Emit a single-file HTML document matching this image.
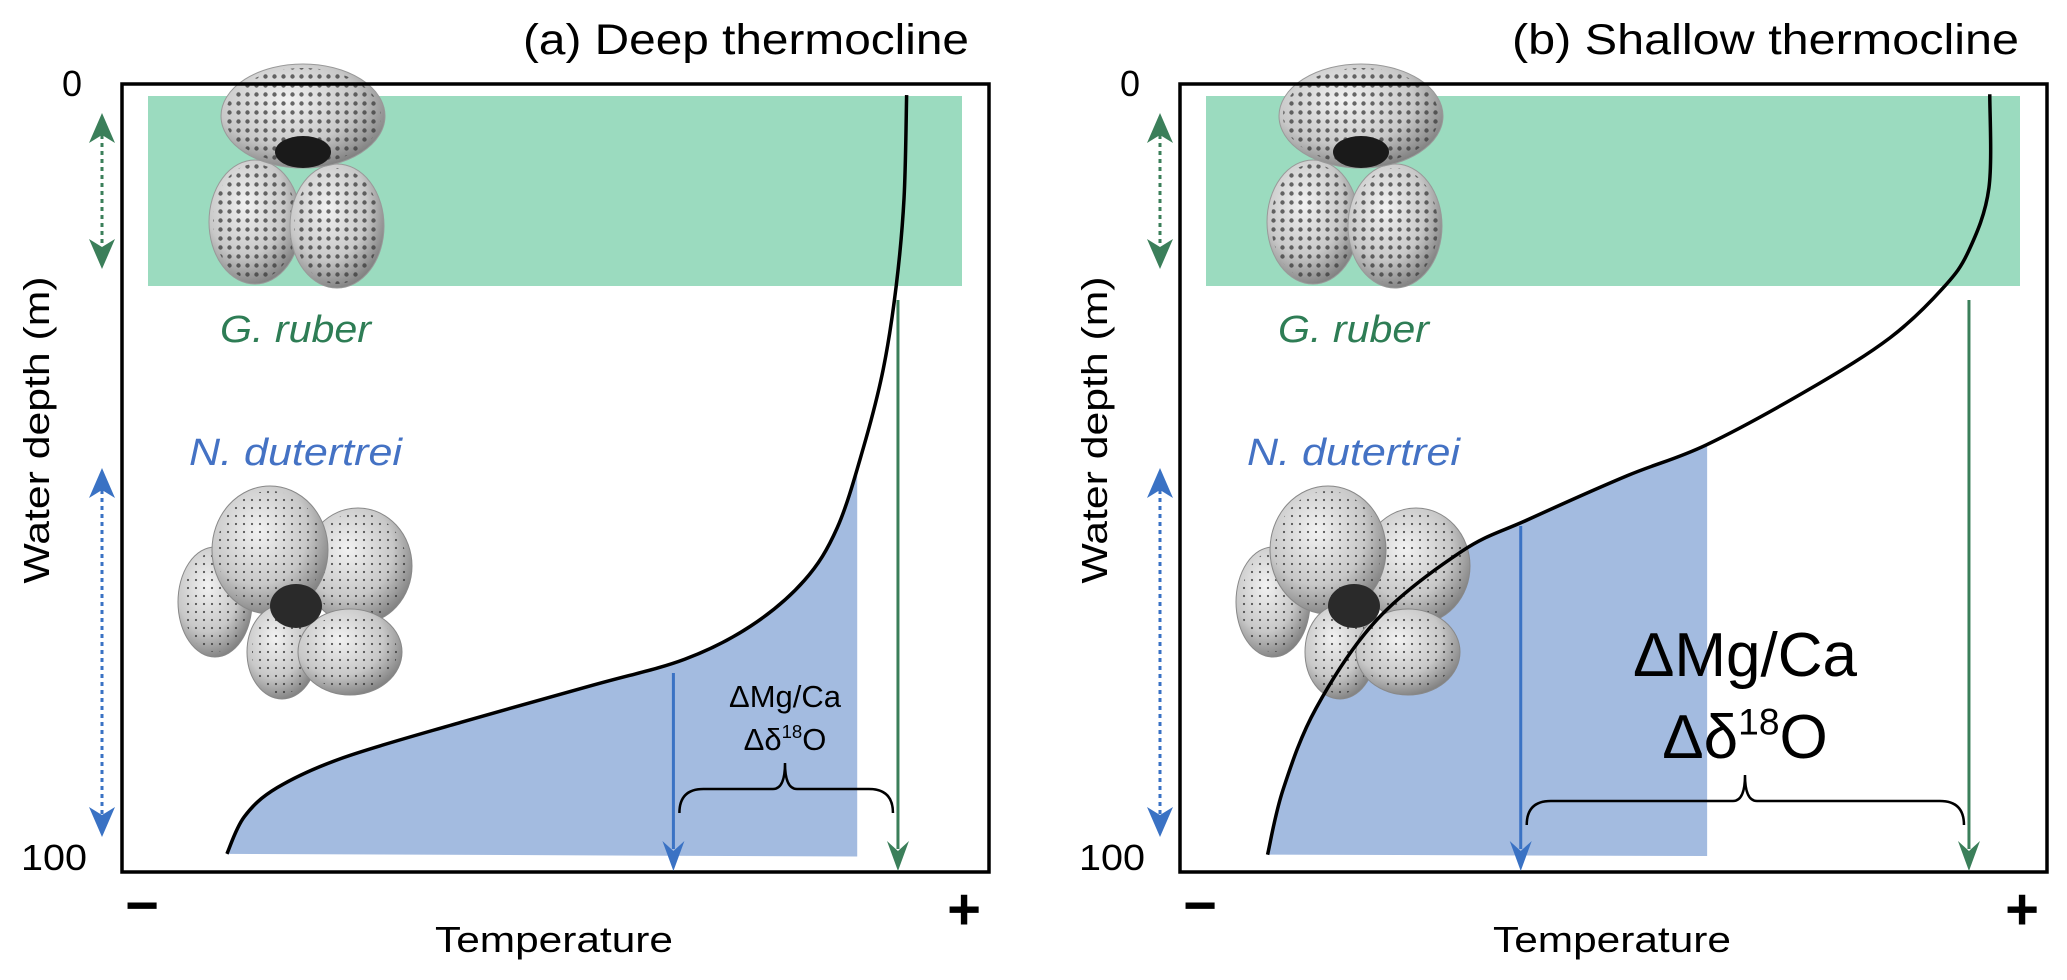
<!DOCTYPE html>
<html><head><meta charset="utf-8">
<style>
html,body{margin:0;padding:0;background:#fff;}
svg{display:block;font-family:"Liberation Sans",sans-serif;}
</style></head>
<body>
<svg id="fig" width="2067" height="980" viewBox="0 0 2067 980" xmlns="http://www.w3.org/2000/svg">
<defs>
  <pattern id="pores" width="9" height="9" patternUnits="userSpaceOnUse">
    <rect width="9" height="9" fill="none"/>
    <circle cx="4.5" cy="4.5" r="2.2" fill="#3a3a3a"/>
  </pattern>
  <pattern id="pores2" width="8" height="8" patternUnits="userSpaceOnUse">
    <circle cx="4" cy="4" r="1.1" fill="#333"/>
  </pattern>
  <radialGradient id="shell" cx="40%" cy="35%" r="70%">
    <stop offset="0" stop-color="#f2f2f2"/>
    <stop offset="0.6" stop-color="#c8c8c8"/>
    <stop offset="1" stop-color="#7a7a7a"/>
  </radialGradient>
</defs>
<g id="root"></g>
</svg>
<script>
// ---- data ----
const depthTicks = ["0", "100"];
const tempLabels = ["\u2212", "+"];
// Panel (a) deep thermocline: temperature (0-100 relative) vs depth (m)
const tempA  = [90.5, 90.2, 89.3, 87.8, 85.5, 82.5, 78.7, 72.5, 64.9, 54.3, 39.1, 25.5, 17.9, 14.1, 12.1];
const depthA = [1.4, 14.5, 25.6, 36.2, 46.2, 56.3, 63.0, 68.8, 73.0, 76.3, 81.0, 85.5, 89.3, 93.0, 97.7];
// Panel (b) shallow thermocline
const tempB  = [93.4, 93.3, 91.0, 88.0, 81.9, 72.8, 60.7, 51.6, 40.1, 32.5, 22.7, 15.7, 11.9, 10.1];
const depthB = [1.3, 13.2, 21.1, 25.9, 32.2, 38.6, 45.8, 49.7, 55.3, 59.3, 68.0, 79.2, 89.5, 97.8];
// species temperature markers & N. dutertrei fill limit
const ndTemp = [63.6, 39.3];
const grTemp = [89.5, 91.0];
const fillLimit = [84.8, 60.8];
const titles = ["(a) Deep thermocline", "(b) Shallow thermocline"];

const NS = "http://www.w3.org/2000/svg";
const root = document.getElementById("root");
function mk(tag, attrs, parent) {
  const e = document.createElementNS(NS, tag);
  for (const k in attrs) e.setAttribute(k, attrs[k]);
  (parent || root).appendChild(e);
  return e;
}
const BW = 867, BH = 788, BY = 84;
function catmull(pts) {
  let d = "M" + pts[0][0] + "," + pts[0][1];
  for (let i = 0; i < pts.length - 1; i++) {
    const p0 = pts[Math.max(i - 1, 0)], p1 = pts[i], p2 = pts[i + 1], p3 = pts[Math.min(i + 2, pts.length - 1)];
    const c1 = [p1[0] + (p2[0] - p0[0]) / 6, p1[1] + (p2[1] - p0[1]) / 6];
    const c2 = [p2[0] - (p3[0] - p1[0]) / 6, p2[1] - (p3[1] - p1[1]) / 6];
    d += " C" + c1[0] + "," + c1[1] + " " + c2[0] + "," + c2[1] + " " + p2[0] + "," + p2[1];
  }
  return d;
}
function brace(x1, x2, y, tipX) {
  const r = 12, dn = 24, up = 26;
  return `M${x1},${y+dn} Q${x1},${y} ${x1+r*2},${y} L${tipX-r},${y} Q${tipX},${y} ${tipX},${y-up} Q${tipX},${y} ${tipX+r},${y} L${x2-r*2},${y} Q${x2},${y} ${x2},${y+dn}`;
}
function foramRuber(g, dx) {
  const parts = [[255,222,46,62],[337,226,47,62],[303,116,82,52]];
  parts.forEach((p,i) => {
    const c = mk("ellipse",{cx:p[0]+dx,cy:p[1],rx:p[2],ry:p[3],fill:"url(#shell)",stroke:"#999","stroke-width":1},g);
    
    
    mk("ellipse",{cx:p[0]+dx,cy:p[1],rx:p[2]-4,ry:p[3]-4,fill:"url(#pores)",opacity:0.75},g);
  });
  mk("ellipse",{cx:303+dx,cy:152,rx:28,ry:16,fill:"#1a1a1a"},g);
}
function foramDut(g, dx) {
  const parts = [[215,602,37,55],[358,566,54,58],[270,550,58,64],[282,652,35,47],[350,652,52,43]];
  parts.forEach(p => {
    const c = mk("ellipse",{cx:p[0]+dx,cy:p[1],rx:p[2],ry:p[3],fill:"url(#shell)",stroke:"#888","stroke-width":1},g);
    
    
    mk("ellipse",{cx:p[0]+dx,cy:p[1],rx:p[2]-5,ry:p[3]-5,fill:"url(#pores2)",opacity:0.8},g);
  });
  mk("ellipse",{cx:296+dx,cy:606,rx:26,ry:22,fill:"#2a2a2a"},g);
}
function arrowDown(g, x, y1, y2, color, w) {
  mk("line",{x1:x,y1:y1,x2:x,y2:y2-22,stroke:color,"stroke-width":w},g);
  mk("path",{d:`M${x-11},${y2-30} L${x},${y2} L${x+11},${y2-30} L${x},${y2-20} Z`,fill:color},g);
}
function dottedDouble(g, x, y1, y2, color) {
  mk("line",{x1:x,y1:y1+22,x2:x,y2:y2-22,stroke:color,"stroke-width":3,"stroke-dasharray":"4,4"},g);
  mk("path",{d:`M${x-13},${y1+30} L${x},${y1} L${x+13},${y1+30} L${x},${y1+22} Z`,fill:color},g);
  mk("path",{d:`M${x-13},${y2-30} L${x},${y2} L${x+13},${y2-30} L${x},${y2-22} Z`,fill:color},g);
}

function panel(idx, bx, temps, depths) {
  const xS = t => bx + t * BW / 100;
  const yS = d => BY + d * BH / 100;
  const dx = bx - 122;
  const g = mk("g", {});
  
  

  const band = mk("rect",{x:bx+26,y:96,width:814,height:190,fill:"#9bdbbf"},g);
  
  

  const pts = temps.map((t,i)=>[xS(t), yS(depths[i])]);
  const cid = "clip" + idx;
  const cp = mk("clipPath",{id:cid},g);
  mk("rect",{x:bx,y:BY,width:fillLimit[idx]*BW/100,height:yS(98.1)-BY},cp);
  const area = mk("path",{d:catmull(pts)+` L${bx+BW},${yS(98.1)} L${bx+BW},${BY} Z`,fill:"#a3bbe0","clip-path":`url(#${cid})`},g);
  
  

  const fr = mk("g",{},g);
  
  
  foramRuber(fr, dx);
  const fd = mk("g",{},g);
  
  
  foramDut(fd, dx);

  const curve = mk("path",{d:catmull(pts),fill:"none",stroke:"#000","stroke-width":3.5},g);
  
  

  const box = mk("rect",{x:bx,y:BY,width:BW,height:BH,fill:"none",stroke:"#000","stroke-width":3.5},g);
  
  

  const ga = mk("g",{},g);
  
  
  arrowDown(ga, xS(grTemp[idx]), 300, 871, "#3b7f5a", 3);
  const ba = mk("g",{},g);
  
  
  arrowDown(ba, xS(ndTemp[idx]), idx===0?673:526, 871, "#3a72c4", 3);

  const bL = xS(ndTemp[idx]) + 6, bR = xS(grTemp[idx]) - 5;
  const tip = idx===0 ? 785 : 1745;
  const by = idx===0 ? 789 : 801;
  const br = mk("path",{d:brace(bL,bR,by,tip),fill:"none",stroke:"#000","stroke-width":2.5},g);
  
  

  const fs = idx===0 ? 31 : 62;
  const l1 = mk("text",{x:tip,y:idx===0?707:676,"text-anchor":"middle","font-size":fs,fill:"#000"},g);
  l1.textContent = "\u0394Mg/Ca";
  
  
  const l2 = mk("text",{x:tip,y:idx===0?750:758,"text-anchor":"middle","font-size":fs,fill:"#000"},g);
  
  
  const t1 = mk("tspan",{},l2); t1.textContent = "\u0394\u03b4";
  const t2 = mk("tspan",{"font-size":fs*0.6,dy:-fs*0.38}, l2); t2.textContent = "18";
  const t3 = mk("tspan",{dy:fs*0.38}, l2); t3.textContent = "O";

  const dg = mk("g",{},g);
  
  
  dottedDouble(dg, bx-20, 113, 269, "#3b7f5a");
  const db = mk("g",{},g);
  
  
  dottedDouble(db, bx-20, 468, 837, "#3a72c4");

  const gr = mk("text",{x:220+dx,y:342,"font-size":38,"font-style":"italic",fill:"#2e7d55",textLength:151,lengthAdjust:"spacingAndGlyphs"},g);
  gr.textContent = "G. ruber";
  
  
  const nd = mk("text",{x:189+dx,y:465,"font-size":38,"font-style":"italic",fill:"#4472c4",textLength:213,lengthAdjust:"spacingAndGlyphs"},g);
  nd.textContent = "N. dutertrei";
  
  

  const t0 = mk("text",{x:bx-50,y:yS(0)+12,"text-anchor":"middle","font-size":36,fill:"#000"},g);
  t0.textContent = depthTicks[0];
  
  
  const t100 = mk("text",{x:bx-68,y:yS(100)-2,"text-anchor":"middle","font-size":36,fill:"#000",textLength:66,lengthAdjust:"spacingAndGlyphs"},g);
  t100.textContent = depthTicks[1];
  
  

  const yt = mk("text",{x:0,y:0,"text-anchor":"middle","font-size":36,fill:"#000",textLength:307,lengthAdjust:"spacingAndGlyphs",transform:`translate(${bx-73},430) rotate(-90)`},g);
  yt.textContent = "Water depth (m)";
  
  

  const mn = mk("text",{x:bx+20,y:925,"text-anchor":"middle","font-size":58,"font-weight":"bold",fill:"#000"},g);
  mn.textContent = tempLabels[0];
  
  
  const pl = mk("text",{x:bx+842,y:929,"text-anchor":"middle","font-size":58,"font-weight":"bold",fill:"#000"},g);
  pl.textContent = tempLabels[1];
  
  
  const xt = mk("text",{x:bx+432,y:952,"text-anchor":"middle","font-size":36,fill:"#000",textLength:238,lengthAdjust:"spacingAndGlyphs"},g);
  xt.textContent = "Temperature";
  
  

  const tt = mk("text",{x:idx===0?969:2019,y:54,"text-anchor":"end","font-size":43,fill:"#000",textLength:idx===0?446:507,lengthAdjust:"spacingAndGlyphs"},g);
  tt.textContent = titles[idx];
  
  
}
panel(0, 122, tempA, depthA);
panel(1, 1180, tempB, depthB);
</script>
</body></html>
